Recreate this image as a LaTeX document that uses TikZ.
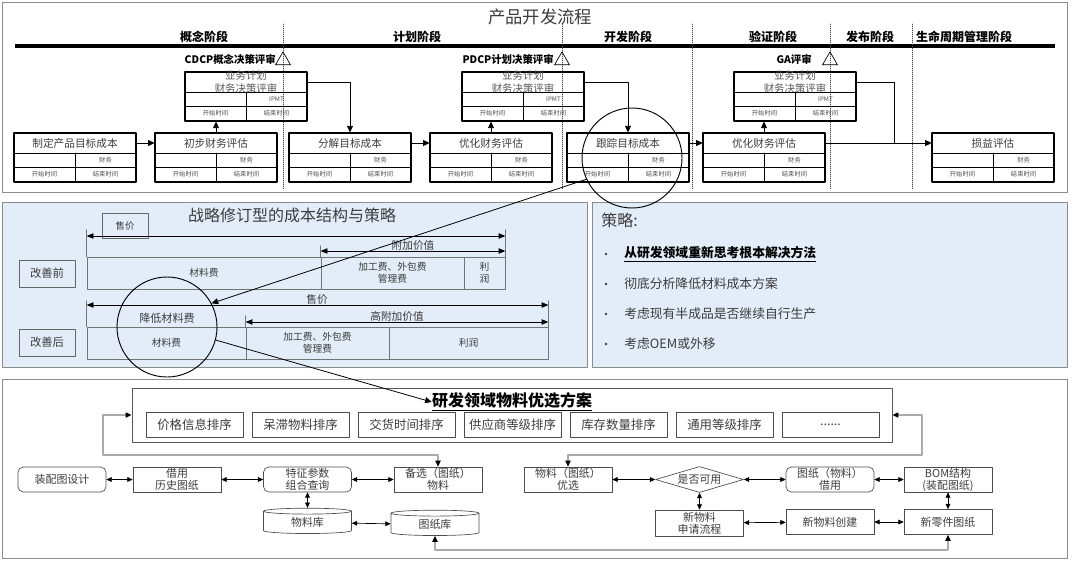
\documentclass[tikz,border=0pt]{standalone}
\usepackage{fontspec}
\setmainfont{Noto Sans CJK SC}
\usetikzlibrary{arrows.meta,shapes.geometric}

\definecolor{panelblue}{HTML}{E3EDF9}
\definecolor{framegray}{HTML}{8C8C8C}
\definecolor{linkgray}{HTML}{ABABAB}
\definecolor{inkgray}{HTML}{3C3C3C}

\newcommand{\fsz}[1]{\fontsize{#1}{#1}\selectfont}
\newcommand{\fszl}[2]{\fontsize{#1}{#2}\selectfont}

\tikzset{
  frame/.style={draw=framegray, line width=0.6pt},
  panel/.style={draw=framegray, line width=0.6pt, fill=panelblue},
  divider/.style={draw=black!70, densely dotted, line width=0.5pt},
  phase/.style={inner sep=0pt, font=\bfseries\fsz{9}},
  gate/.style={draw, regular polygon, regular polygon sides=3, minimum size=13pt, inner sep=0pt, line width=0.5pt},
  gatelabel/.style={anchor=east, inner sep=0pt, font=\bfseries\fsz{7.8}},
  stagebox/.style={draw, line width=0.8pt, minimum width=91.5pt, minimum height=36.75pt, inner sep=0pt},
  stagetitle/.style={minimum width=91.5pt, minimum height=15pt, inner sep=0pt, text=inkgray, font=\fsz{8}},
  reviewtitle/.style={text=black!65, align=center, font=\fszl{7.8}{9.6}},
  celltext/.style={inner sep=0pt, text=black!70, font=\fsz{4.7}},
  flow/.style={-{Triangle[length=5pt,width=4.5pt]}, line width=0.7pt},
  focus/.style={draw, circle, line width=0.7pt, minimum size=75pt, inner sep=0pt},
  tagbox/.style={draw=black!60, line width=0.5pt, minimum width=34.5pt, minimum height=18.75pt, inner sep=0pt, text=inkgray, font=\fsz{7}},
  rowtag/.style={draw=black!60, line width=0.5pt, minimum width=42pt, minimum height=20.25pt, inner sep=0pt, text=inkgray, font=\fsz{8.5}},
  bar/.style={draw=black!55, line width=0.5pt, minimum height=24pt, inner sep=0pt, align=center, text=inkgray, font=\fszl{7.3}{9}},
  dim/.style={{Triangle[length=5pt,width=4pt]}-{Triangle[length=5pt,width=4pt]}, line width=0.5pt},
  tick/.style={draw=black!55, line width=0.5pt},
  dimlabel/.style={inner sep=0pt, text=inkgray, font=\fsz{8}},
  dot/.style={circle, fill=inkgray, inner sep=0pt, minimum size=2.2pt},
  point/.style={anchor=west, inner sep=0pt, text=inkgray, font=\fsz{9.6}},
  scheme/.style={draw=black!65, line width=0.7pt, minimum width=570pt, minimum height=40.5pt, inner sep=0pt},
  rank/.style={draw=black!70, line width=0.6pt, minimum width=72.75pt, minimum height=18.75pt, inner sep=0pt, text=inkgray, font=\fsz{9.3}},
  task/.style={draw=black!70, line width=0.5pt, minimum width=66pt, minimum height=18.75pt, inner sep=0pt, align=center, text=inkgray, font=\fszl{8.2}{9}},
  roundtask/.style={task, rounded corners=4pt},
  choice/.style={task, diamond, aspect=3.5, minimum height=19.5pt},
  store/.style={task, cylinder, shape border rotate=90, aspect=0.18, minimum height=19pt},
  link/.style={{Triangle[length=4pt,width=3.6pt]}-{Triangle[length=4pt,width=3.6pt]}, line width=0.5pt},
  greylink/.style={{Triangle[length=4.5pt,width=4pt,color=black]}-{Triangle[length=4.5pt,width=4pt,color=black]}, draw=linkgray, line width=0.8pt}
}

\newcommand{\stage}[6]{%
  \node[stagebox] (#1) at (#2+61,#3+24.5) {};
  \node[stagetitle,#4] (#1-t) at (#2+61,#3+10) {#5};
  \draw[line width=0.5pt] (#2,#3+20) -- (#2+122,#3+20) (#2,#3+34) -- (#2+122,#3+34) (#2+61,#3+20) -- (#2+61,#3+49);
  \node[celltext] (#1-r) at (#2+91.5,#3+27) {#6};
  \node[celltext] (#1-s) at (#2+30.5,#3+41.5) {开始时间};
  \node[celltext] (#1-e) at (#2+91.5,#3+41.5) {结束时间};
}

\begin{document}
\begin{tikzpicture}[x=0.75pt,y=-0.75pt,line cap=round,line join=round]
\useasboundingbox (0,0) rectangle (1080,560);
\draw[frame] (2,2) rectangle (1067,192);
\draw[panel] (2,202) rectangle (587,367);
\draw[panel] (592,202) rectangle (1067,367);
\draw[frame] (2,379) rectangle (1067,558);

\node[font=\fsz{13}, text=inkgray] (flowTitle) at (540,17) {产品开发流程};
\draw[line width=3.6pt, line cap=butt] (15,46) -- (1055,46);
\foreach \x in {283,562,692,830,912}
  \draw[divider] (\x,24) -- (\x,190);
\foreach \x/\t in {204/概念阶段,417/计划阶段,628/开发阶段,773/验证阶段,870/发布阶段,964/生命周期管理阶段}
  \node[phase] (phase\x) at (\x,37) {\t};
\node[gate] (cdcp) at (283,60.5) {};
\node[gate] (pdcp) at (562,60.5) {};
\node[gate] (ga) at (830,60.5) {};
\node[gatelabel] (cdcpText) at (276,59) {CDCP概念决策评审};
\node[gatelabel] (pdcpText) at (554,59) {PDCP计划决策评审};
\node[gatelabel] (gaText) at (812,59) {GA评审};

\stage{r1}{185}{72}{reviewtitle}{业务计划\\财务决策评审}{IPMT}
\stage{r2}{462}{72}{reviewtitle}{业务计划\\财务决策评审}{IPMT}
\stage{r3}{734}{72}{reviewtitle}{业务计划\\财务决策评审}{IPMT}
\stage{a1}{14}{133}{}{制定产品目标成本}{财务}
\stage{a2}{155}{133}{}{初步财务评估}{财务}
\stage{a3}{289}{133}{}{分解目标成本}{财务}
\stage{a4}{430}{133}{}{优化财务评估}{财务}
\stage{a5}{567}{133}{}{跟踪目标成本}{财务}
\stage{a6}{703}{133}{}{优化财务评估}{财务}
\stage{a7}{932}{133}{}{损益评估}{财务}

\draw[flow] (a1-t) -- (a2-t);
\draw[flow] (a2.north) -- (a2.north |- r1.south);
\draw[flow] (r1-t.east) -| (a3.north);
\draw[flow] (a3-t) -- (a4-t);
\draw[flow] (a4.north) -- (a4.north |- r2.south);
\draw[flow] (r2-t.east) -| (a5.north);
\draw[flow] (a5-t) -- (a6-t);
\draw[flow] (a6.north) -- (a6.north |- r3.south);
\coordinate (gaTurn) at (894,143);
\draw[line width=0.7pt] (r3-t.east) -| (gaTurn);
\draw[flow] (a6-t) -- (a7-t);

\node[font=\fsz{12}, text=inkgray] (costTitle) at (292,215) {战略修订型的成本结构与策略};
\node[tagbox] (priceTag) at (125,225.5) {售价};
\node[rowtag] (before) at (47,273.5) {改善前};
\node[rowtag] (after) at (47,342.5) {改善后};
\node[bar, minimum width=175.5pt] (oldMat) at (204,273) {材料费};
\node[bar, minimum width=107.25pt] (oldWork) at (392.5,273) {加工费、外包费\\管理费};
\node[bar, minimum width=30.75pt] (oldProfit) at (484.5,273) {利\\润};
\node[bar, minimum width=119.25pt] (newMat) at (166.5,343) {材料费};
\node[bar, minimum width=107.25pt] (newWork) at (317.5,343) {加工费、外包费\\管理费};
\node[bar, minimum width=119.25pt] (newProfit) at (468.5,343) {利润};
\draw[tick] (oldMat.north west) -- ++(0,-27);
\draw[tick] (oldProfit.north east) -- ++(0,-27);
\draw[tick] (oldWork.north west) -- ++(0,-11);
\draw[tick] (newMat.north west) -- ++(0,-26);
\draw[tick] (newProfit.north east) -- ++(0,-26);
\draw[tick] (newWork.north west) -- ++(0,-11);
\draw[dim] (oldMat.north west |- 0,236) -- (oldProfit.north east |- 0,236);
\draw[dim] (oldWork.north west |- 0,251) -- (oldProfit.north east |- 0,251);
\draw[dim] (newMat.north west |- 0,305) -- (newProfit.north east |- 0,305);
\draw[dim] (newWork.north west |- 0,322) -- (newProfit.north east |- 0,322);
\node[dimlabel] (addLabel) at (413,245) {附加价值};
\node[dimlabel] (priceLabel) at (317,299) {售价};
\node[dimlabel] (highLabel) at (397,316) {高附加价值};
\node[dimlabel, font=\fsz{8.3}] (cutLabel) at (167,318) {降低材料费};

\node[anchor=west, inner sep=0pt, text=inkgray, font=\fsz{12}] (stratTitle) at (601,220) {策略:};
\node[dot] (d1) at (606,254) {};
\node[dot] (d2) at (606,284) {};
\node[dot] (d3) at (606,314) {};
\node[dot] (d4) at (606,344) {};
\node[point, font=\bfseries\fsz{9.6}, text=black] (s1) at (624,254) {\underline{从研发领域重新思考根本解决方法}};
\node[point] (s2) at (624,284) {彻底分析降低材料成本方案};
\node[point] (s3) at (624,314) {考虑现有半成品是否继续自行生产};
\node[point] (s4) at (624,344) {考虑OEM或外移};

\node[scheme] (scheme) at (512,415) {};
\node[inner sep=0pt, font=\bfseries\fsz{12}] (schemeTitle) at (512,402) {\underline{研发领域物料优选方案}};
\foreach \t [count=\i from 0] in {价格信息排序,呆滞物料排序,交货时间排序,供应商等级排序,库存数量排序,通用等级排序}
  \node[rank] (rank\i) at (194.5+106*\i,425) {\t};
\node[rank] (rank6) at (830.5,425) {......};

\node[roundtask] (asm) at (62,479.5) {装配图设计};
\node[task] (borrow) at (177,479.5) {借用\\历史图纸};
\node[roundtask] (query) at (307.5,479.5) {特征参数\\组合查询};
\node[task] (spare) at (438,479.5) {备选（图纸）\\物料};
\node[task] (prefer) at (568,479.5) {物料（图纸）\\优选};
\node[choice] (usable) at (699.5,479.5) {是否可用};
\node[roundtask] (reuse) at (830,479.5) {图纸（物料）\\借用};
\node[task] (bom) at (948,479.5) {BOM结构\\(装配图纸)};
\node[task, minimum height=19.5pt] (apply) at (699.5,523) {新物料\\申请流程};
\node[task] (create) at (830,522) {新物料创建};
\node[task] (part) at (948,522) {新零件图纸};
\node[store] (matlib) at (307.5,522.5) {物料库};
\node[store] (drwlib) at (435,524.5) {图纸库};

\draw[link] (asm) -- (borrow);
\draw[link] (borrow) -- (query);
\draw[link] (query) -- (spare);
\draw[link] (query) -- (matlib);
\draw[link] (matlib) -- (drwlib);
\draw[link] (prefer) -- (usable);
\draw[link] (usable) -- (reuse);
\draw[link] (reuse) -- (bom);
\draw[link] (bom) -- (part);
\draw[link] (usable) -- (apply);
\draw[link] (apply) -- (create);
\draw[link] (create) -- (part);
\coordinate (leftBend) at (103,455);
\coordinate (rightBend) at (922,455);
\coordinate (floorLine) at (0,550);
\draw[greylink] (scheme.west) -| (leftBend) -- (leftBend -| spare.north) -- (spare.north);
\draw[greylink] (scheme.east) -| (rightBend) -- (rightBend -| prefer.north) -- (prefer.north);
\draw[greylink] (drwlib.south) -- (drwlib.south |- floorLine) -- (part.south |- floorLine) -- (part.south);

\node[focus] (focusTop) at (632,158) {};
\node[focus] (focusBot) at (167,327) {};
\draw[flow, line width=0.6pt] (focusTop.205) -- (focusBot.28);
\draw[flow, line width=0.6pt] (focusBot.-15) -- (schemeTitle.west);
\end{tikzpicture}
\end{document}
